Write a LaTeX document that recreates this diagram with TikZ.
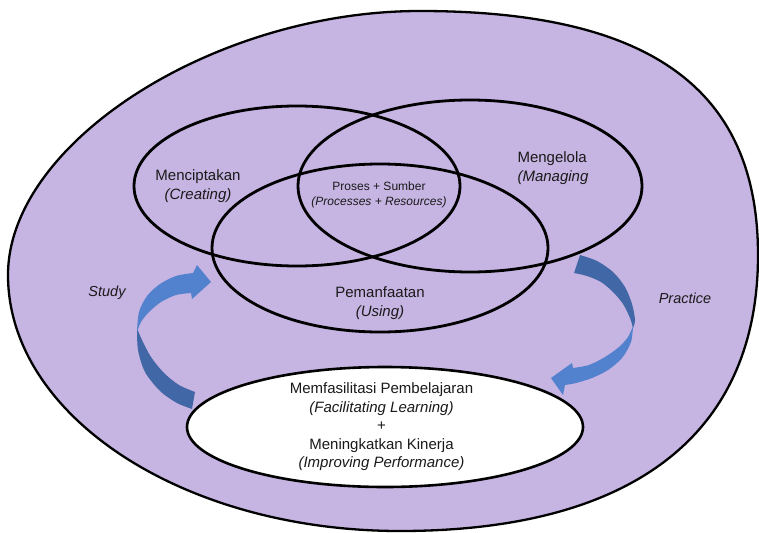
\documentclass[tikz,border=0pt]{standalone}
\usepackage{fontspec}
\setmainfont{Liberation Sans}
\usetikzlibrary{shapes.geometric}
\definecolor{lavender}{RGB}{198,180,226}
\definecolor{bandlight}{RGB}{82,129,206}
\definecolor{banddark}{RGB}{66,103,167}
\definecolor{ink}{RGB}{26,26,26}
\begin{document}
\begin{tikzpicture}[x=1pt,y=-1pt,
  ring/.style={ellipse,draw=black,line width=2.8pt,inner sep=0pt,outer sep=0pt},
  bigtext/.style={text=ink,align=center,font=\fontsize{15}{19}\selectfont},
  smalltext/.style={text=ink,align=center,font=\fontsize{12}{15}\selectfont},
  sidetext/.style={text=ink,font=\fontsize{14.5}{17}\selectfont\itshape}]
\useasboundingbox (0,0) rectangle (759,532);
\fill[white] (0,0) rectangle (759,532);
\clip (0,0) rectangle (759,532);

% outer domain: four quarter arcs, slightly squarer towards the upper right
\coordinate (oL) at (8,275);
\coordinate (oT) at (420,11);
\coordinate (oR) at (758,255);
\coordinate (oB) at (400,531);
\draw[line width=2.3pt,fill=lavender]
  (oL) .. controls (8,143) and (214,11) .. (oT)
       .. controls (650,11) and (758,89) .. (oR)
       .. controls (758,434) and (633,531) .. (oB)
       .. controls (183,531) and (8,416) .. (oL) -- cycle;

% three overlapping domains
\node[ring,minimum width=326pt,minimum height=160pt] (create) at (297,186) {};
\node[ring,minimum width=344pt,minimum height=172pt] (manage) at (470,186) {};
\node[ring,minimum width=336pt,minimum height=168pt] (use) at (380,248) {};

% curved block arrow on the left (Study)
\fill[banddark] plot[smooth] coordinates {(137,328) (138,350) (145,372) (160,391) (177,403) (192,409)}
  -- plot[smooth] coordinates {(195,392) (179,385) (164,373) (151,357) (142,340) (137,328)} -- cycle;
\fill[bandlight] plot[smooth] coordinates {(137,332) (139,312) (147,296) (160,284) (176,276) (193,273)}
  -- (197,265) -- (211,282) -- (192,299)
  -- plot[smooth] coordinates {(191,293) (176,295) (161,302) (149,312) (141,322) (137,332)} -- cycle;

% curved block arrow on the right (Practice)
\fill[banddark] plot[smooth] coordinates {(580,255) (597,261) (613,272) (625,287) (632,304) (635,320) (633,328)}
  -- plot[smooth] coordinates {(633,328) (630,318) (623,304) (613,292) (601,282) (587,276) (574,273)} -- cycle;
\fill[bandlight] plot[smooth] coordinates {(633,326) (631,342) (622,358) (608,370) (592,378) (576,383) (565,385)}
  -- (563,395) -- (551,378) -- (572,363)
  -- plot[smooth] coordinates {(573,368) (589,365) (605,357) (619,347) (628,337) (633,326)} -- cycle;

% outcome
\node[ellipse,draw=black,line width=2.6pt,fill=white,inner sep=0pt,
  minimum width=396pt,minimum height=120pt] (goal) at (385,427) {};

% labels
\node[bigtext] (tcreate) at (198,186.5) {Menciptakan\\\textit{(Creating)}};
\node[bigtext,align=left,anchor=west] (tmanage) at (514,168.5) {Mengelola\\\textit{(Managing}};
\node[smalltext] (tcore) at (379,194.5) {Proses + Sumber\\\textit{(Processes + Resources)}};
\node[bigtext] (tuse) at (380,303.5) {Pemanfaatan\\\textit{(Using)}};
\node[bigtext,font=\fontsize{15}{18.5}\selectfont] (tgoal) at (381.5,427)
  {Memfasilitasi Pembelajaran\\\textit{(Facilitating Learning)}\\+\\Meningkatkan Kinerja\\\textit{(Improving Performance)}};
\node[sidetext] (study) at (107,293) {Study};
\node[sidetext] (practice) at (685,298) {Practice};
\end{tikzpicture}
\end{document}
